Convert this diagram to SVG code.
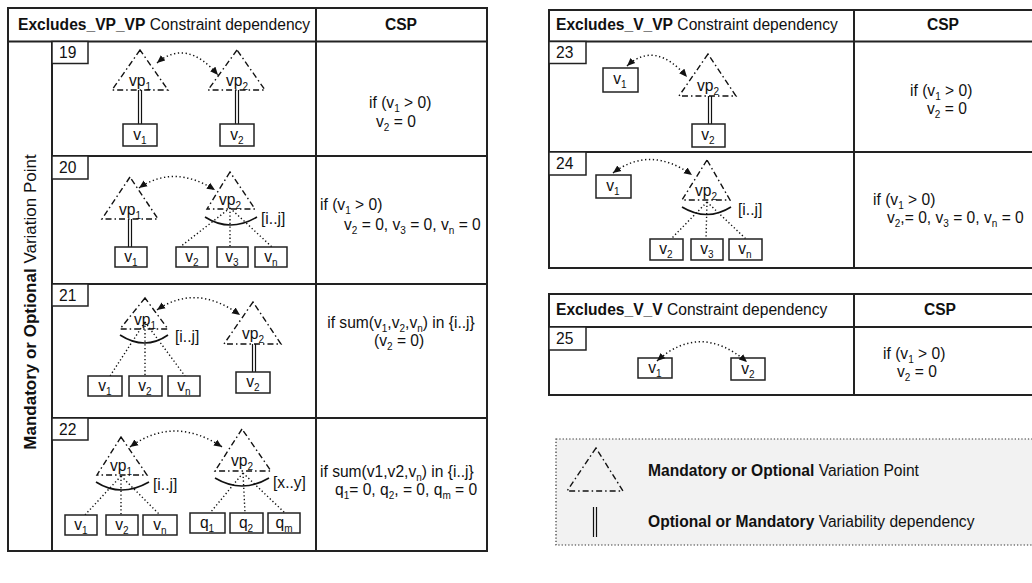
<svg xmlns="http://www.w3.org/2000/svg" width="1032" height="583" viewBox="0 0 1032 583">
<style>
text{font-family:"Liberation Sans",Arial,sans-serif;font-size:15.6px;fill:#111}
.b{font-weight:bold}
.s{font-size:10px}
.c{text-anchor:middle}
.vt{font-size:17px}
.tbl{fill:#fff;stroke:#222;stroke-width:2}
.ln{stroke:#222;stroke-width:2;fill:none}
.box{fill:#fff;stroke:#222;stroke-width:1.5}
.tri{fill:none;stroke:#111;stroke-width:1.4;stroke-dasharray:6 3 1.5 3}
.dbl{stroke:#111;stroke-width:1.2}
.dot{fill:none;stroke:#111;stroke-width:1.4;stroke-dasharray:1.3 2.4}
.arc{fill:none;stroke:#111;stroke-width:1.6}
.ex{fill:none;stroke:#111;stroke-width:1.5;stroke-dasharray:1.3 2.6;marker-start:url(#ah);marker-end:url(#ah)}
</style>
<defs>
<marker id="ah" markerWidth="9" markerHeight="8" refX="8" refY="4" orient="auto-start-reverse" markerUnits="userSpaceOnUse">
<path d="M0,0.5 L8,4 L0,7.5 Z" fill="#111"/>
</marker>
</defs>

<!-- LEFT TABLE -->
<g id="table-left">
<rect class="tbl" x="8" y="8" width="479" height="543"/>
<line class="ln" x1="8" y1="41.5" x2="487" y2="41.5"/>
<line class="ln" x1="316" y1="8" x2="316" y2="551"/>
<line class="ln" x1="52" y1="41.5" x2="52" y2="551"/>
<line class="ln" x1="52" y1="156" x2="487" y2="156"/>
<line class="ln" x1="52" y1="284" x2="487" y2="284"/>
<line class="ln" x1="52" y1="418" x2="487" y2="418"/>
<text x="18" y="30"><tspan class="b">Excludes_VP_VP</tspan> Constraint dependency</text>
<text class="b c" x="401" y="30">CSP</text>
<text class="c vt" transform="translate(36,302) rotate(-90)"><tspan class="b">Mandatory or Optional</tspan> Variation Point</text>
</g>

<!-- Row 19 -->
<g id="row19">
<rect class="box" x="52" y="41.5" width="36" height="22"/>
<text x="59" y="58">19</text>
<g id="r19-vp1">
<path class="tri" d="M140,50 L112,90 L168,90 Z"/>
<text class="c" x="140" y="86">vp<tspan class="s" dy="4">1</tspan></text>
</g>
<line class="dbl" x1="138.5" y1="90" x2="138.5" y2="124"/><line class="dbl" x1="141.5" y1="90" x2="141.5" y2="124"/>
<g id="r19-v1"><rect class="box" x="123" y="124" width="34" height="22"/><text class="c" x="140" y="140">v<tspan class="s" dy="4">1</tspan></text></g>
<g id="r19-vp2">
<path class="tri" d="M237,50 L208,90 L265,90 Z"/>
<text class="c" x="237" y="86">vp<tspan class="s" dy="4">2</tspan></text>
</g>
<line class="dbl" x1="235.5" y1="90" x2="235.5" y2="124"/><line class="dbl" x1="238.5" y1="90" x2="238.5" y2="124"/>
<g id="r19-v2"><rect class="box" x="220" y="124" width="34" height="22"/><text class="c" x="237" y="140">v<tspan class="s" dy="4">2</tspan></text></g>
<text x="369" y="108">if (v<tspan class="s" dy="4">1</tspan><tspan dy="-4"> &gt; 0)</tspan></text>
<text x="376" y="127">v<tspan class="s" dy="4">2</tspan><tspan dy="-4"> = 0</tspan></text>
</g>

<!-- Row 20 -->
<g id="row20">
<rect class="box" x="52" y="156" width="36" height="23"/>
<text x="59" y="173">20</text>
<g id="r20-vp1">
<path class="tri" d="M130,177 L102,219 L158,219 Z"/>
<text class="c" x="130" y="215">vp<tspan class="s" dy="4">1</tspan></text>
</g>
<line class="dbl" x1="128.5" y1="219" x2="128.5" y2="247"/><line class="dbl" x1="131.5" y1="219" x2="131.5" y2="247"/>
<g id="r20-v1"><rect class="box" x="115" y="247" width="32" height="20"/><text class="c" x="131" y="262">v<tspan class="s" dy="4">1</tspan></text></g>
<g id="r20-vp2">
<path class="tri" d="M230,172 L207,209 L255,209 Z"/>
<text class="c" x="230" y="205">vp<tspan class="s" dy="4">2</tspan></text>
</g>
<path class="arc" d="M205,217 Q230,233 257,217"/>
<text x="261" y="224">[i..j]</text>
<path class="dot" d="M230,208 L180,247 M230,208 L230,247 M230,208 L272,247"/>
<g id="r20-v2"><rect class="box" x="176" y="247" width="32" height="20"/><text class="c" x="192" y="262">v<tspan class="s" dy="4">2</tspan></text></g>
<g id="r20-v3"><rect class="box" x="217" y="247" width="31" height="20"/><text class="c" x="232" y="262">v<tspan class="s" dy="4">3</tspan></text></g>
<g id="r20-vn"><rect class="box" x="255" y="247" width="32" height="20"/><text class="c" x="271" y="262">v<tspan class="s" dy="4">n</tspan></text></g>
<text x="320" y="210">if (v<tspan class="s" dy="4">1</tspan><tspan dy="-4"> &gt; 0)</tspan></text>
<text x="344" y="230">v<tspan class="s" dy="4">2</tspan><tspan dy="-4"> = 0, v</tspan><tspan class="s" dy="4">3</tspan><tspan dy="-4"> = 0, v</tspan><tspan class="s" dy="4">n</tspan><tspan dy="-4"> = 0</tspan></text>
</g>

<!-- Row 21 -->
<g id="row21">
<rect class="box" x="52" y="284" width="36" height="22"/>
<text x="59" y="301">21</text>
<g id="r21-vp1">
<path class="tri" d="M145,298 L120,329 L168,329 Z"/>
<text class="c" x="145" y="325">vp<tspan class="s" dy="4">1</tspan></text>
</g>
<path class="arc" d="M120,335 Q145,351 168,335"/>
<text x="175" y="342">[i..j]</text>
<path class="dot" d="M145,322 L110,376 M145,322 L145,376 M145,322 L185,376"/>
<g id="r21-v1"><rect class="box" x="88" y="376" width="34" height="20"/><text class="c" x="105" y="391">v<tspan class="s" dy="4">1</tspan></text></g>
<g id="r21-v2a"><rect class="box" x="129" y="376" width="33" height="20"/><text class="c" x="145" y="391">v<tspan class="s" dy="4">2</tspan></text></g>
<g id="r21-vn"><rect class="box" x="168" y="376" width="32" height="20"/><text class="c" x="184" y="391">v<tspan class="s" dy="4">n</tspan></text></g>
<g id="r21-vp2">
<path class="tri" d="M253,302 L224,344 L281,344 Z"/>
<text class="c" x="253" y="339">vp<tspan class="s" dy="4">2</tspan></text>
</g>
<line class="dbl" x1="252.5" y1="344" x2="252.5" y2="372"/><line class="dbl" x1="255.5" y1="344" x2="255.5" y2="372"/>
<g id="r21-v2b"><rect class="box" x="236" y="372" width="34" height="21"/><text class="c" x="253" y="387">v<tspan class="s" dy="4">2</tspan></text></g>
<text class="c" x="401" y="328">if sum(v<tspan class="s" dy="4">1</tspan><tspan dy="-4">,v</tspan><tspan class="s" dy="4">2</tspan><tspan dy="-4">,v</tspan><tspan class="s" dy="4">n</tspan><tspan dy="-4">) in {i..j}</tspan></text>
<text x="374" y="346">(v<tspan class="s" dy="4">2</tspan><tspan dy="-4"> = 0)</tspan></text>
</g>

<!-- Row 22 -->
<g id="row22">
<rect class="box" x="52" y="418" width="36" height="22"/>
<text x="59" y="435">22</text>
<g id="r22-vp1">
<path class="tri" d="M121,437 L97,475 L147,475 Z"/>
<text class="c" x="121" y="471">vp<tspan class="s" dy="4">1</tspan></text>
</g>
<path class="arc" d="M96,482 Q121,498 149,482"/>
<text x="153" y="490">[i..j]</text>
<path class="dot" d="M121,476 L85,515 M121,476 L121,515 M121,476 L160,515"/>
<g id="r22-v1"><rect class="box" x="65" y="515" width="32" height="20"/><text class="c" x="81" y="530">v<tspan class="s" dy="4">1</tspan></text></g>
<g id="r22-v2"><rect class="box" x="106" y="515" width="32" height="20"/><text class="c" x="122" y="530">v<tspan class="s" dy="4">2</tspan></text></g>
<g id="r22-vn"><rect class="box" x="143" y="515" width="34" height="20"/><text class="c" x="160" y="530">v<tspan class="s" dy="4">n</tspan></text></g>
<g id="r22-vp2">
<path class="tri" d="M242,429 L215,471 L271,471 Z"/>
<text class="c" x="242" y="466">vp<tspan class="s" dy="4">2</tspan></text>
</g>
<path class="arc" d="M215,478 Q242,494 269,478"/>
<text x="273" y="488">[x..y]</text>
<path class="dot" d="M243,473 L210,513 M243,473 L245,513 M243,473 L285,513"/>
<g id="r22-q1"><rect class="box" x="190" y="513" width="35" height="20"/><text class="c" x="207" y="528">q<tspan class="s" dy="4">1</tspan></text></g>
<g id="r22-q2"><rect class="box" x="230" y="513" width="33" height="20"/><text class="c" x="246" y="528">q<tspan class="s" dy="4">2</tspan></text></g>
<g id="r22-qm"><rect class="box" x="268" y="513" width="32" height="20"/><text class="c" x="284" y="528">q<tspan class="s" dy="4">m</tspan></text></g>
<text x="320" y="477">if sum(v1,v2,v<tspan class="s" dy="4">n</tspan><tspan dy="-4">) in {i..j}</tspan></text>
<text x="335" y="495">q<tspan class="s" dy="4">1</tspan><tspan dy="-4">= 0, q</tspan><tspan class="s" dy="4">2</tspan><tspan dy="-4">, = 0, q</tspan><tspan class="s" dy="4">m</tspan><tspan dy="-4"> = 0</tspan></text>
</g>

<!-- RIGHT TABLE 1 -->
<g id="table-right1">
<rect class="tbl" x="549" y="10" width="490" height="258"/>
<line class="ln" x1="549" y1="41.5" x2="1039" y2="41.5"/>
<line class="ln" x1="854" y1="10" x2="854" y2="268"/>
<line class="ln" x1="549" y1="152" x2="1039" y2="152"/>
<text x="556" y="30"><tspan class="b">Excludes_V_VP</tspan>  Constraint dependency</text>
<text class="b c" x="943" y="30">CSP</text>
</g>

<g id="row23">
<rect class="box" x="549" y="41.5" width="37" height="22"/>
<text x="556" y="58">23</text>
<g id="r23-v1"><rect class="box" x="603" y="68" width="35" height="24"/><text class="c" x="620" y="84">v<tspan class="s" dy="4">1</tspan></text></g>
<g id="r23-vp2">
<path class="tri" d="M708,54 L679,96 L736,96 Z"/>
<text class="c" x="708" y="91">vp<tspan class="s" dy="4">2</tspan></text>
</g>
<line class="dbl" x1="708.5" y1="96" x2="708.5" y2="124"/><line class="dbl" x1="711.5" y1="96" x2="711.5" y2="124"/>
<g id="r23-v2"><rect class="box" x="692" y="124" width="33" height="23"/><text class="c" x="708" y="140">v<tspan class="s" dy="4">2</tspan></text></g>
<text x="910" y="96">if (v<tspan class="s" dy="4">1</tspan><tspan dy="-4"> &gt; 0)</tspan></text>
<text x="927" y="114">v<tspan class="s" dy="4">2</tspan><tspan dy="-4"> = 0</tspan></text>
</g>

<g id="row24">
<rect class="box" x="549" y="152" width="37" height="23"/>
<text x="556" y="169">24</text>
<g id="r24-v1"><rect class="box" x="596" y="175" width="35" height="23"/><text class="c" x="613" y="191">v<tspan class="s" dy="4">1</tspan></text></g>
<g id="r24-vp2">
<path class="tri" d="M707,160 L682,200 L730,200 Z"/>
<text class="c" x="706" y="196">vp<tspan class="s" dy="4">2</tspan></text>
</g>
<path class="arc" d="M682,207 Q707,222 731,207"/>
<text x="738" y="215">[i..j]</text>
<path class="dot" d="M707,202 L671,239 M707,202 L706,239 M707,202 L746,239"/>
<g id="r24-v2"><rect class="box" x="650" y="239" width="33" height="21"/><text class="c" x="666" y="254">v<tspan class="s" dy="4">2</tspan></text></g>
<g id="r24-v3"><rect class="box" x="691" y="239" width="32" height="21"/><text class="c" x="707" y="254">v<tspan class="s" dy="4">3</tspan></text></g>
<g id="r24-vn"><rect class="box" x="729" y="239" width="33" height="21"/><text class="c" x="745" y="254">v<tspan class="s" dy="4">n</tspan></text></g>
<text x="873" y="205">if (v<tspan class="s" dy="4">1</tspan><tspan dy="-4"> &gt; 0)</tspan></text>
<text x="887" y="223">v<tspan class="s" dy="4">2</tspan><tspan dy="-4">,= 0, v</tspan><tspan class="s" dy="4">3</tspan><tspan dy="-4"> = 0, v</tspan><tspan class="s" dy="4">n</tspan><tspan dy="-4"> = 0</tspan></text>
</g>

<!-- RIGHT TABLE 2 -->
<g id="table-right2">
<rect class="tbl" x="549" y="294" width="490" height="101"/>
<line class="ln" x1="549" y1="327" x2="1039" y2="327"/>
<line class="ln" x1="854" y1="294" x2="854" y2="395"/>
<text x="556" y="315"><tspan class="b">Excludes_V_V</tspan>  Constraint dependency</text>
<text class="b c" x="940" y="315">CSP</text>
</g>
<g id="row25">
<rect class="box" x="549" y="327" width="37" height="23"/>
<text x="556" y="344">25</text>
<g id="r25-v1"><rect class="box" x="638" y="358" width="34" height="20"/><text class="c" x="655" y="373">v<tspan class="s" dy="4">1</tspan></text></g>
<g id="r25-v2"><rect class="box" x="731" y="358" width="34" height="22"/><text class="c" x="748" y="374">v<tspan class="s" dy="4">2</tspan></text></g>
<text x="883" y="359">if (v<tspan class="s" dy="4">1</tspan><tspan dy="-4"> &gt; 0)</tspan></text>
<text x="897" y="377">v<tspan class="s" dy="4">2</tspan><tspan dy="-4"> = 0</tspan></text>
</g>

<!-- Connectors (excludes dependencies) -->
<g id="connectors">
<path class="ex" d="M157,63 Q186,38 218,75"/>
<path class="ex" d="M139,188 Q174,164 215,190"/>
<path class="ex" d="M157,310 Q196,283 240,315"/>
<path class="ex" d="M130,447 Q174,415 222,447"/>
<path class="ex" d="M627,66 Q655,40 687,77"/>
<path class="ex" d="M613,173 Q650,145 692,175"/>
<path class="ex" d="M657,361 Q700,322 747,362"/>
</g>

<!-- LEGEND -->
<g id="legend">
<rect x="556" y="439" width="490" height="106" fill="#f2f2f2" stroke="#333" stroke-width="1.2" stroke-dasharray="1.3 2"/>
<path class="tri" d="M596,448 L567,491 L623,491 Z"/>
<line class="dbl" x1="593.5" y1="507" x2="593.5" y2="537"/><line class="dbl" x1="596.5" y1="507" x2="596.5" y2="537"/>
<text x="648" y="476"><tspan class="b">Mandatory or Optional</tspan> Variation Point</text>
<text x="648" y="527"><tspan class="b">Optional or Mandatory</tspan> Variability dependency</text>
</g>
</svg>
